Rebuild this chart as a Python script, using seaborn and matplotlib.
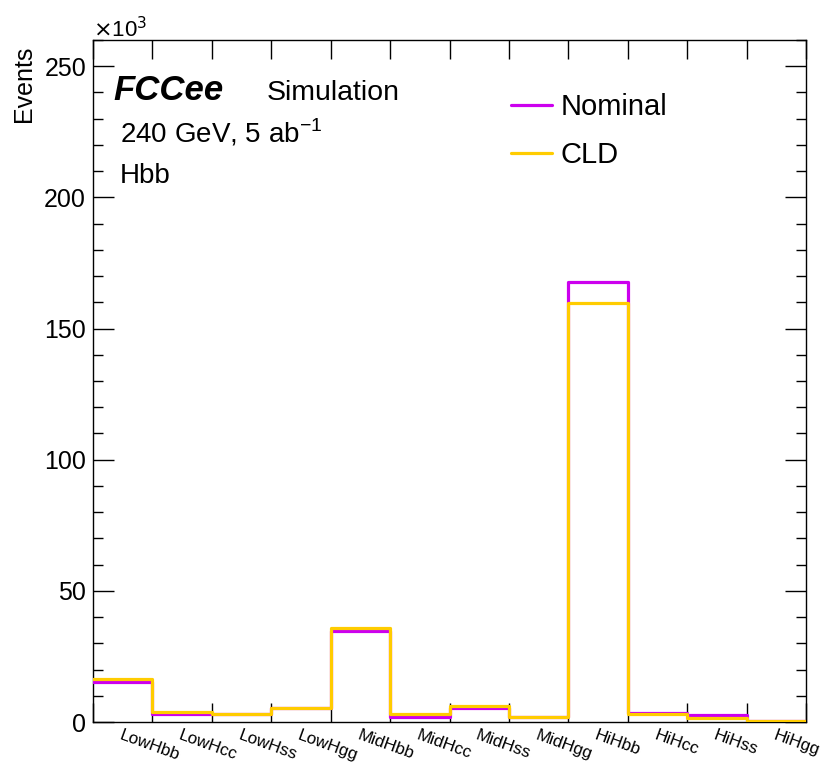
import numpy as np
import pandas as pd
import seaborn as sns
import matplotlib
matplotlib.use("Agg")
import matplotlib.pyplot as plt
from matplotlib.ticker import FixedLocator, MultipleLocator, FuncFormatter, NullFormatter
from matplotlib.lines import Line2D

categories = ["LowHbb", "LowHcc", "LowHss", "LowHgg", "MidHbb", "MidHcc",
              "MidHss", "MidHgg", "HiHbb", "HiHcc", "HiHss", "HiHgg"]
nominal = [15400, 2900, 3000, 5200, 34800, 2000, 5500, 1800, 167600, 3600, 2700, 300]
cld = [16400, 3900, 3200, 5200, 35700, 3000, 6200, 1800, 159800, 2900, 1500, 300]
series_names = ["Nominal", "CLD"]
colors = {"Nominal": "#cc00ee", "CLD": "#ffcc00"}

sns.set_theme(style="white")
plt.rcParams['font.family'] = ['Liberation Sans', 'DejaVu Sans']
for k in ["text.color", "axes.labelcolor", "xtick.color", "ytick.color", "axes.edgecolor"]:
    plt.rcParams[k] = "black"

df = pd.concat([
    pd.DataFrame({"bin": np.arange(len(categories)) + 0.5, "events": nominal, "sample": "Nominal"}),
    pd.DataFrame({"bin": np.arange(len(categories)) + 0.5, "events": cld, "sample": "CLD"}),
])

fig = plt.figure(figsize=(8.23, 7.63), dpi=100)
ax = fig.add_axes([93/823, 1 - 722/763, (806-93)/823, (722-40)/763])
n = len(categories)
edges = np.arange(n + 1)

for name in series_names:
    sub = df[df["sample"] == name]
    sns.histplot(data=sub, x="bin", weights="events", bins=n, binrange=(0, n), element="step",
                 fill=False, color=colors[name], linewidth=2.3, ax=ax, zorder=3)

ax.set_xlim(0, n)
ax.set_ylim(0, 260000)

# ticks
ax.xaxis.set_major_locator(FixedLocator(edges))
ax.xaxis.set_major_formatter(NullFormatter())
ax.xaxis.set_minor_locator(FixedLocator(np.arange(n) + 0.5))
ax.xaxis.set_minor_formatter(FuncFormatter(lambda v, p: categories[int(v)] if 0 <= int(v) < n else ""))
ax.yaxis.set_major_locator(MultipleLocator(50000))
ax.yaxis.set_minor_locator(MultipleLocator(10000))
ax.yaxis.set_major_formatter(FuncFormatter(lambda v, p: f"{v/1000:g}"))

ax.tick_params(axis="x", which="major", direction="in", top=True, bottom=True, length=14, width=1, color="black")
ax.tick_params(axis="x", which="minor", length=0, labelsize=12.3, pad=4, labelcolor="black")
ax.tick_params(axis="y", which="major", direction="in", left=True, right=True, length=15, width=1,
               labelsize=18, color="black", labelcolor="black", pad=5)
ax.tick_params(axis="y", which="minor", direction="in", left=True, right=True, length=7.5, width=1, color="black")
for lab in ax.xaxis.get_minorticklabels():
    lab.set_rotation(-20)
    lab.set_ha("left")
    lab.set_va("top")
    lab.set_rotation_mode("anchor")

for s in ax.spines.values():
    s.set_color("black")
    s.set_linewidth(1.0)

ax.set_xlabel("")
ax.set_ylabel("")
fig.text(24/823, 1 - 46/763, "Events", rotation=90, fontsize=18, ha="center", va="top")

ax.text(0.0, 1 + 3/682, r"$\times$10$^{3}$", transform=ax.transAxes, fontsize=16, ha="left", va="baseline")

fig.text(113/823, 1 - 100/763, "FCCee", fontsize=25, fontweight="bold", fontstyle="italic", ha="left", va="baseline")
fig.text(267/823, 1 - 100/763, "Simulation", fontsize=20.5, ha="left", va="baseline")
fig.text(120/823, 1 - 142/763, r"240 GeV, 5 ab$^{\mathregular{-1}}$", fontsize=20, ha="left", va="baseline")
fig.text(120/823, 1 - 183/763, "Hbb", fontsize=20, ha="left", va="baseline")

handles = [Line2D([0], [0], color=colors[n_], linewidth=2.3) for n_ in series_names]
leg = ax.legend(handles, series_names, loc="upper left", bbox_to_anchor=((511-93)/713, 1 - (93-40)/682),
                frameon=False, fontsize=21, handlelength=1.4, handletextpad=0.3, labelspacing=0.68,
                borderpad=0, borderaxespad=0)

fig.savefig("out.png", dpi=100)
